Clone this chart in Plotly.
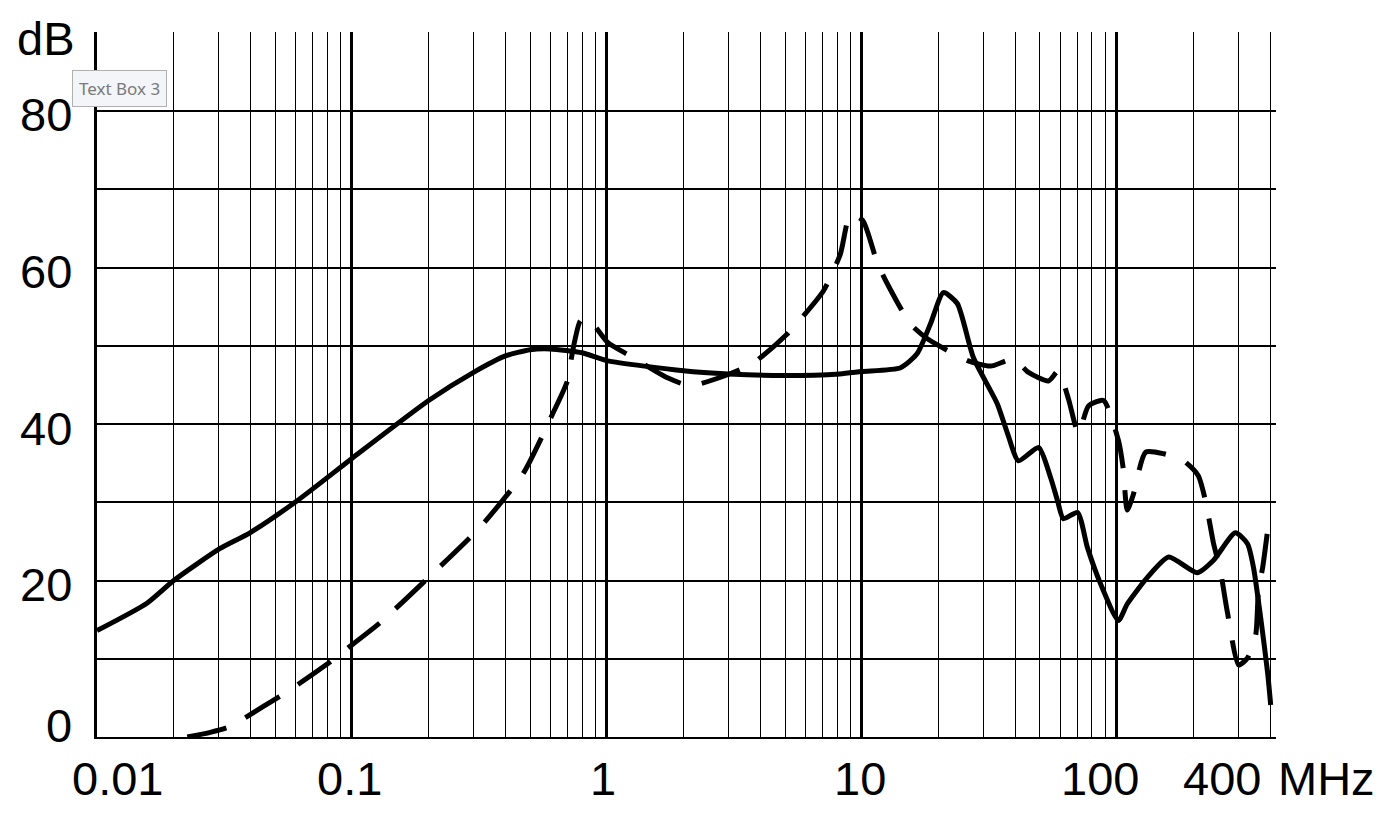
import numpy as np
import plotly.graph_objects as go

# ---- data ----
solid_f = [0.01, 0.0157, 0.02, 0.0304, 0.0398, 0.061, 0.1, 0.2, 0.3, 0.4, 0.5, 0.6, 0.8,
           1.0, 2.0, 3.0, 5.0, 8.2, 10.0, 14.2, 16.5, 18.6, 20.9, 23.7, 27.4, 34.0, 37.3,
           41.2, 49.4, 55.0, 58.6, 61.8, 70.2, 76.8, 86.4, 101.6, 110, 132, 160, 207,
           240, 292, 326, 344, 367, 391, 402]
solid_db = [13.6, 17.1, 20.0, 24.1, 26.1, 30.2, 35.6, 43.0, 46.6, 48.7, 49.5, 49.6, 49.1,
            48.1, 46.8, 46.4, 46.2, 46.4, 46.7, 47.2, 49.0, 52.8, 56.8, 55.4, 48.5, 42.6, 38.8,
            35.3, 37.0, 33.2, 30.2, 27.9, 28.7, 24.2, 19.6, 14.9, 17.0, 20.4, 23.0, 21.0,
            22.6, 26.1, 24.7, 21.7, 15.3, 8.2, 4.1]

dash_f = [0.0226, 0.0278, 0.033, 0.047, 0.057, 0.079, 0.094, 0.13, 0.2, 0.318, 0.47,
          0.617, 0.70, 0.735, 0.787, 0.838, 1.01, 1.236, 1.73, 2.12, 2.92, 3.76, 5.1,
          5.9, 7.07, 8.24, 9.02, 10.1, 11.5, 12.7, 15.5, 18.1, 26.0, 32.0, 39.4, 45.1,
          54.0, 59.1, 64.7, 70.8, 77.5, 88.8, 101.6, 106, 110, 116, 130, 153, 183, 209,
          223, 240, 255, 272, 301, 326, 351, 360, 374, 394]
dash_db = [0.0, 0.6, 1.3, 4.3, 6.0, 9.2, 11.1, 14.7, 20.4, 26.8, 33.7,
           41.5, 45.5, 49.4, 53.2, 53.6, 50.4, 48.7, 45.9, 44.9, 46.2, 47.8, 51.5,
           53.8, 57.0, 61.7, 66.8, 66.0, 60.6, 57.7, 52.8, 50.9, 48.1, 47.4, 48.3, 46.6,
           45.5, 46.8, 43.2, 38.8, 42.3, 43.0, 37.9, 34.4, 29.0, 30.9, 36.4, 36.2, 35.3, 33.4,
           30.2, 24.7, 21.3, 15.9, 9.2, 10.1, 13.0, 18.8, 21.7, 27.3]

x_label_vals = [0.01, 0.1, 1, 10, 100, 400]
x_label_text = ["0.01", "0.1", "1", "10", "100", "400"]
y_label_vals = [0, 20, 40, 60, 80]
y_label_text = ["0", "20", "40", "60", "80"]

major_x = [0.01, 0.1, 1, 10, 100]
minor_x = [m * d for d in [0.01, 0.1, 1, 10] for m in range(2, 10)] + [200, 300, 400]

# ---- styling / layout ----
OFF = 8  # page body margin of the saved html
W, H = 1392 - OFF, 814 - OFF
L, T = 97 - OFF, 32 - OFF
PW, PH = 1179, 705
R, B = W - L - PW, H - T - PH
FONT = "Liberation Sans, Arial, sans-serif"
FS = 47

def px_x(px):
    return (px - OFF - L) / PW

def px_y(py):
    return (T + PH - (py - OFF)) / PH

fig = go.Figure()
fig.add_trace(go.Scatter(x=dash_f, y=dash_db, mode="lines",
                         line=dict(color="black", width=5, dash="40px,22px",
                                   shape="spline", smoothing=0.6),
                         showlegend=False, hoverinfo="skip"))
fig.add_trace(go.Scatter(x=solid_f, y=solid_db, mode="lines",
                         line=dict(color="black", width=5, shape="spline", smoothing=0.6),
                         showlegend=False, hoverinfo="skip"))

x_shifts = [20, -2, -4, -2, -17, -48]
annotations = []
for v, t, s in zip(x_label_vals, x_label_text, x_shifts):
    annotations.append(dict(x=np.log10(v), xref="x", y=px_y(778), yref="paper",
                            text=t, showarrow=False, xanchor="center", yanchor="middle",
                            xshift=s, font=dict(family=FONT, size=FS, color="black")))
annotations.append(dict(x=px_x(1326), xref="paper", y=px_y(778), yref="paper",
                        text="MHz", showarrow=False, xanchor="center", yanchor="middle",
                        font=dict(family=FONT, size=FS, color="black")))
y_shifts = [12, -4, -4, -4, -3]
for v, t, s in zip(y_label_vals, y_label_text, y_shifts):
    annotations.append(dict(x=px_x(74), xref="paper", y=v, yref="y",
                            text=t, showarrow=False, xanchor="right", yanchor="middle",
                            yshift=s, font=dict(family=FONT, size=FS, color="black")))
annotations.append(dict(x=px_x(46), xref="paper", y=px_y(38), yref="paper",
                        text="dB", showarrow=False, xanchor="center", yanchor="middle",
                        font=dict(family=FONT, size=FS, color="black")))
annotations.append(dict(x=px_x(119), xref="paper", y=px_y(88), yref="paper",
                        text="Text Box 3", showarrow=False, xanchor="center", yanchor="middle",
                        bgcolor="#f3f5f8", bordercolor="#b0b0b0", borderwidth=1, borderpad=6,
                        font=dict(family="Noto Sans, sans-serif", size=17, color="#7a7a7a")))

fig.update_layout(
    width=W, height=H,
    margin=dict(l=L, r=R, t=T, b=B, pad=0),
    paper_bgcolor="white", plot_bgcolor="white",
    showlegend=False,
    annotations=annotations,
    xaxis=dict(type="log", range=[-2, 2.625], tickmode="array", tickvals=major_x,
               showticklabels=False, ticks="", showgrid=True, gridcolor="black",
               gridwidth=2.6, zeroline=False, showline=True, linecolor="black", linewidth=2,
               minor=dict(tickmode="array", tickvals=minor_x, showgrid=True,
                          gridcolor="black", gridwidth=1.4, ticks="")),
    yaxis=dict(range=[0, 90.1], tickmode="array", tickvals=list(range(0, 91, 10)),
               showticklabels=False, ticks="", showgrid=True, gridcolor="black",
               gridwidth=1.6, zeroline=False, showline=True, linecolor="black", linewidth=3),
)

fig.write_html("out.html")
